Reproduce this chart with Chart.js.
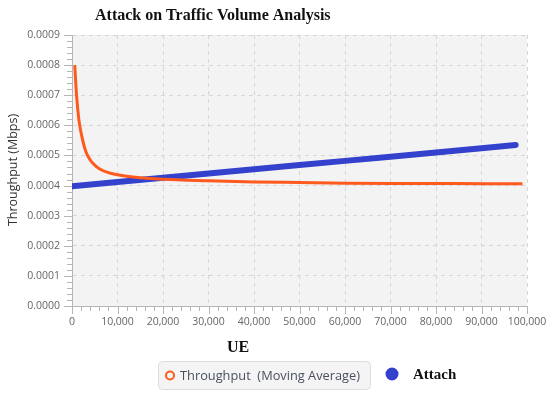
<!DOCTYPE html>
<html>
<head>
<meta charset="utf-8">
<script src="https://cdn.jsdelivr.net/npm/chart.js@4"></script>
<style>
  html, body { margin: 0; padding: 0; background: #fff; }
  #wrap { width: 550px; height: 399px; position: relative; }
</style>
</head>
<body>
<div id="wrap"><canvas id="myChart" width="550" height="399"></canvas></div>
<script>
// UE counts and throughput for the moving average line
var throughputUE = [600, 1000, 1500, 2000, 3000, 4000, 5000, 6000, 8000, 10000, 12000, 15000, 20000, 30000, 40000, 50000, 60000, 70000, 80000, 90000, 99000];
var throughputVals = [0.00080, 0.00070, 0.00062, 0.000575, 0.000515, 0.000485, 0.000468, 0.000456, 0.000443, 0.000436, 0.000431, 0.000426, 0.000421, 0.000416, 0.000412, 0.000410, 0.000408, 0.000407, 0.000407, 0.000406, 0.000406];
// Attach line
var attachUE = [0, 10000, 20000, 30000, 40000, 50000, 60000, 70000, 80000, 90000, 97500];
var attachVals = [0.000398, 0.000412, 0.000426, 0.000440, 0.000454, 0.000468, 0.000482, 0.000496, 0.000510, 0.000524, 0.000535];

var titleText = "Attack on Traffic Volume Analysis";
var xTitle = "UE";
var yTitle = "Throughput (Mbps)";
var legendLabels = ["Throughput  (Moving Average)", "Attach"];

function toPoints(xs, ys) {
  return xs.map(function (x, i) { return { x: x, y: ys[i] }; });
}

var ORANGE = "#ff5a1e";
var BLUE = "#3441cc";
var SANS = "'Open Sans', 'Noto Sans', sans-serif";
var SERIF = "'Liberation Serif', 'DejaVu Serif', serif";

// background of the plot area
var plotBg = {
  id: "plotBg",
  beforeDraw: function (chart) {
    var a = chart.chartArea, ctx = chart.ctx;
    ctx.save();
    ctx.fillStyle = "#f3f3f3";
    ctx.fillRect(a.left, a.top, a.right - a.left, a.bottom - a.top);
    ctx.restore();
  }
};

// minor ticks, titles and the legend
var extras = {
  id: "extras",
  afterDraw: function (chart) {
    var ctx = chart.ctx, a = chart.chartArea;
    var xs = chart.scales.x, ys = chart.scales.y;
    ctx.save();
    ctx.strokeStyle = "#b5b5b5";
    ctx.lineWidth = 1;
    ctx.setLineDash([]);
    ctx.beginPath();
    for (var v = 0; v <= 100000; v += 2000) {
      var px = Math.round(xs.getPixelForValue(v)) + 0.5;
      var len = (v % 10000 === 0) ? 8 : 5;
      ctx.moveTo(px, a.bottom);
      ctx.lineTo(px, a.bottom + len);
    }
    for (var k = 0; k <= 45; k++) {
      var val = k * 0.00002;
      var py = Math.round(ys.getPixelForValue(val)) + 0.5;
      var l2 = (k % 5 === 0) ? 8 : 5;
      ctx.moveTo(a.left, py);
      ctx.lineTo(a.left - l2, py);
    }
    ctx.stroke();

    // title
    ctx.fillStyle = "#111";
    ctx.font = "bold 16px " + SERIF;
    ctx.textBaseline = "middle";
    ctx.textAlign = "left";
    ctx.fillText(titleText, 95, 16);

    // x title
    ctx.textAlign = "center";
    ctx.fillText(xTitle, 238, 348);

    // y title
    ctx.save();
    ctx.translate(13, 170);
    ctx.rotate(-Math.PI / 2);
    ctx.font = "12.5px " + SANS;
    ctx.fillStyle = "#333";
    ctx.fillText(yTitle, 0, 0);
    ctx.restore();

    // legend box
    ctx.fillStyle = "#f4f4f4";
    ctx.strokeStyle = "#dcdcdc";
    ctx.beginPath();
    ctx.roundRect(158.5, 361.5, 212, 28, 4);
    ctx.fill();
    ctx.stroke();

    ctx.strokeStyle = ORANGE;
    ctx.lineWidth = 2;
    ctx.beginPath();
    ctx.arc(170, 375.5, 4, 0, Math.PI * 2);
    ctx.stroke();

    ctx.fillStyle = "#4a5060";
    ctx.font = "12.8px " + SANS;
    ctx.textAlign = "left";
    ctx.fillText(legendLabels[0], 180, 376);

    ctx.fillStyle = BLUE;
    ctx.beginPath();
    ctx.arc(392, 374, 6.5, 0, Math.PI * 2);
    ctx.fill();

    ctx.fillStyle = "#111";
    ctx.font = "bold 15px " + SERIF;
    ctx.fillText(legendLabels[1], 413, 375);
    ctx.restore();
  }
};

var ctx = document.getElementById("myChart");
var myChart = new Chart(ctx, {
  type: "line",
  data: {
    datasets: [
      {
        label: legendLabels[0],
        data: toPoints(throughputUE, throughputVals),
        borderColor: ORANGE,
        borderWidth: 3,
        pointRadius: 0,
        cubicInterpolationMode: "monotone",
        fill: false
      },
      {
        label: legendLabels[1],
        data: toPoints(attachUE, attachVals),
        borderColor: BLUE,
        borderWidth: 6,
        pointRadius: 0,
        borderCapStyle: "round",
        fill: false
      }
    ]
  },
  options: {
    responsive: false,
    animation: false,
    layout: { padding: { left: 0, right: 23, top: 35, bottom: 0 } },
    plugins: {
      legend: { display: false },
      title: { display: false },
      tooltip: { enabled: false }
    },
    scales: {
      x: {
        type: "linear",
        min: 0,
        max: 100000,
        afterFit: function (s) {
          s.height = 93;
          s.paddingLeft = 0;
          s.paddingRight = 0;
        },
        ticks: {
          stepSize: 10000,
          maxRotation: 0,
          padding: 10,
          color: "#666",
          font: { family: SANS, size: 10.5 },
          callback: function (v) { return v.toLocaleString("en-US"); }
        },
        grid: { color: "#d6d6d6", drawTicks: false },
        border: { color: "#b5b5b5", dash: [4, 4] }
      },
      y: {
        min: 0,
        max: 0.0009,
        afterFit: function (s) {
          s.width = 72;
          s.paddingTop = 0;
          s.paddingBottom = 0;
        },
        ticks: {
          stepSize: 0.0001,
          padding: 12,
          color: "#666",
          font: { family: SANS, size: 10.5 },
          callback: function (v) { return v.toFixed(4); }
        },
        grid: { color: "#d6d6d6", drawTicks: false },
        border: { color: "#b5b5b5", dash: [4, 4] }
      }
    }
  },
  plugins: [plotBg, extras]
});
</script>
</body>
</html>
